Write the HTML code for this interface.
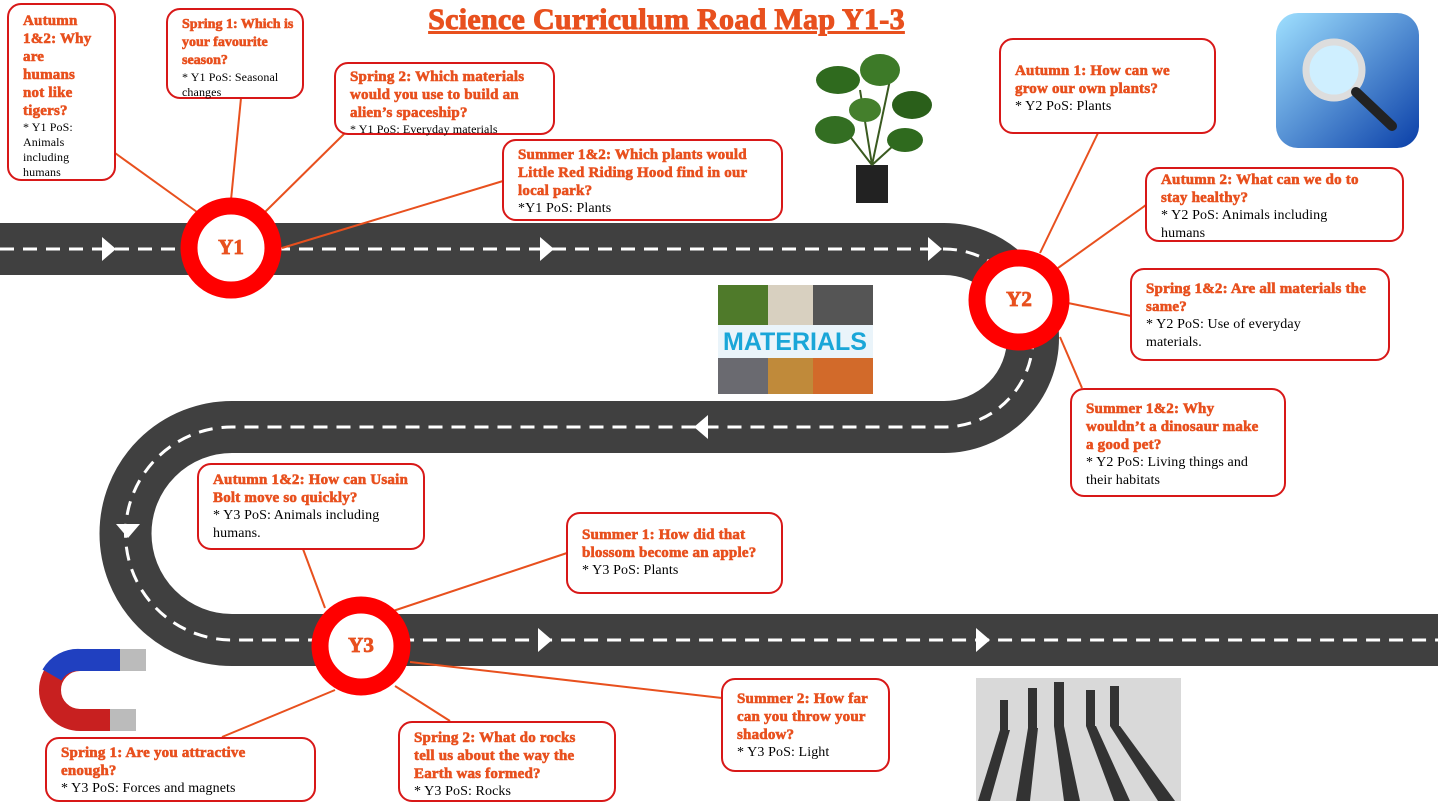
<!DOCTYPE html>
<html><head><meta charset="utf-8"><style>
html,body{margin:0;padding:0;background:#fff;width:1438px;height:807px;overflow:hidden;position:relative;font-family:"Liberation Serif",serif}
svg{position:absolute;left:0;top:0}
.b{position:absolute;box-sizing:border-box;border:2px solid #d81818;border-radius:14px;background:#fff;padding:6px 4px 4px 14px;color:#000;font-size:14px;line-height:18px;white-space:nowrap;letter-spacing:0.1px}
.b b{color:#e8501e;font-size:15px;display:block;letter-spacing:0.2px;font-weight:700;-webkit-text-stroke:0.6px #e8501e}
.s{font-size:12px;line-height:15px}
.s b{font-size:15px;line-height:18px}
h1{position:absolute;left:0;width:1333px;text-align:center;top:3px;margin:0;font-size:30px;color:#e8501e;text-decoration:underline;font-weight:bold;letter-spacing:0.3px;-webkit-text-stroke:1px #e8501e;font-family:"Liberation Serif",serif}
.c{position:absolute;font-weight:bold;color:#e8501e;font-size:21px;text-align:center;width:60px;margin-left:-30px;margin-top:-13px;-webkit-text-stroke:0.8px #e8501e}
</style></head><body>
<svg width="1438" height="807">
<defs><linearGradient id="mg" x1="0" y1="0" x2="1" y2="1"><stop offset="0" stop-color="#9fe0ff"/><stop offset="1" stop-color="#0a3fa8"/></linearGradient></defs>
<path d="M0 249 H944 A89 89 0 0 1 944 427 H232 A106.5 106.5 0 0 0 232 640 H1438" fill="none" stroke="#404040" stroke-width="52"/>
<path d="M0 249 H944 A89 89 0 0 1 944 427 H232 A106.5 106.5 0 0 0 232 640 H1438" fill="none" stroke="#fff" stroke-width="3" stroke-dasharray="14 9"/>
<g fill="#fff">
<polygon points="102,237 116,249 102,261"/><polygon points="540,237 554,249 540,261"/><polygon points="928,237 942,249 928,261"/>
<polygon points="708,415 694,427 708,439"/>
<polygon points="116,524 128,538 140,524"/>
<polygon points="538,628 552,640 538,652"/><polygon points="976,628 990,640 976,652"/>
</g>
<g stroke="#e8501e" stroke-width="2">
<line x1="115" y1="153" x2="197" y2="212"/><line x1="241" y1="98" x2="231" y2="200"/><line x1="345" y1="133" x2="265" y2="212"/><line x1="503" y1="181" x2="282" y2="248"/>
<line x1="1098" y1="133" x2="1040" y2="253"/><line x1="1146" y1="205" x2="1058" y2="268"/><line x1="1131" y1="316" x2="1068" y2="303"/><line x1="1082" y1="388" x2="1060" y2="337"/>
<line x1="303" y1="549" x2="325" y2="608"/><line x1="567" y1="553" x2="393" y2="611"/><line x1="722" y1="698" x2="410" y2="662"/><line x1="222" y1="737" x2="335" y2="690"/><line x1="450" y1="721" x2="395" y2="686"/>
</g>
<g fill="#fff" stroke="#f00" stroke-width="17">
<circle cx="231" cy="248" r="42"/><circle cx="1019" cy="300" r="42"/><circle cx="361" cy="646" r="41"/>
</g>
<g>
<rect x="856" y="165" width="32" height="38" fill="#222"/>
<path d="M872 165 L860 90 M872 165 L890 80 M872 165 L845 130 M872 165 L905 135" stroke="#3a5a20" stroke-width="2"/>
<ellipse cx="838" cy="80" rx="22" ry="14" fill="#2f6a1e"/><ellipse cx="880" cy="70" rx="20" ry="16" fill="#3d7a28"/>
<ellipse cx="912" cy="105" rx="20" ry="14" fill="#2a5f1a"/><ellipse cx="835" cy="130" rx="20" ry="14" fill="#336e22"/>
<ellipse cx="905" cy="140" rx="18" ry="12" fill="#2f6a1e"/><ellipse cx="865" cy="110" rx="16" ry="12" fill="#447f2c"/>
</g>
<rect x="718" y="285" width="155" height="109" fill="#8a9ba0"/>
<rect x="718" y="285" width="50" height="40" fill="#4f7a2a"/><rect x="768" y="285" width="45" height="40" fill="#d8d0c0"/><rect x="813" y="285" width="60" height="40" fill="#555"/>
<rect x="718" y="358" width="50" height="36" fill="#6a6a70"/><rect x="768" y="358" width="45" height="36" fill="#c08a3a"/><rect x="813" y="358" width="60" height="36" fill="#d26a2a"/>
<rect x="718" y="325" width="155" height="33" fill="#eaf4fa"/>
<text x="795" y="350" text-anchor="middle" font-family="Liberation Sans" font-weight="bold" font-size="25" fill="#1aa6d8">MATERIALS</text>
<rect x="1276" y="13" width="143" height="135" rx="22" fill="url(#mg)"/>
<circle cx="1334" cy="70" r="28" fill="#cfefff" stroke="#ddd" stroke-width="7"/>
<line x1="1356" y1="92" x2="1392" y2="126" stroke="#222" stroke-width="10" stroke-linecap="round"/>
<path d="M130 660 H80 A30 30 0 0 0 80 720 H120" fill="none" stroke="#c82020" stroke-width="22"/>
<path d="M130 660 H80 A30 30 0 0 0 52 675" fill="none" stroke="#2040c0" stroke-width="22"/>
<rect x="120" y="649" width="26" height="22" fill="#bbb"/><rect x="110" y="709" width="26" height="22" fill="#bbb"/>
<rect x="976" y="678" width="205" height="123" fill="#d9d9d9"/>
<g fill="#333">
<rect x="1028" y="688" width="9" height="40"/><rect x="1054" y="682" width="10" height="44"/><rect x="1086" y="690" width="9" height="36"/><rect x="1110" y="686" width="9" height="40"/><rect x="1000" y="700" width="8" height="30"/>
<polygon points="1000,730 1010,730 990,801 978,801"/><polygon points="1028,728 1038,728 1030,801 1016,801"/><polygon points="1054,726 1064,726 1080,801 1064,801"/><polygon points="1086,726 1096,726 1130,801 1114,801"/><polygon points="1110,726 1120,726 1175,801 1158,801"/>
</g>
</svg>
<h1>Science Curriculum Road Map Y1-3</h1>
<div class="c" style="left:231px;top:248px">Y1</div>
<div class="c" style="left:1019px;top:300px">Y2</div>
<div class="c" style="left:361px;top:646px">Y3</div>

<div class="b s" style="left:7px;top:3px;width:109px;height:178px;padding-top:7px">
<b>Autumn<br>1&amp;2: Why<br>are<br>humans<br>not like<br>tigers?</b>* Y1 PoS:<br>Animals<br>including<br>humans</div>
<div class="b s" style="left:166px;top:8px;width:138px;height:91px"><b style="font-size:14px;letter-spacing:0">Spring 1: Which is<br>your favourite<br>season?</b>* Y1 PoS: Seasonal<br>changes</div>
<div class="b s" style="left:334px;top:62px;width:221px;height:73px;padding-top:4px"><b>Spring 2: Which materials<br>would you use to build an<br>alien’s spaceship?</b>* Y1 PoS: Everyday materials</div>
<div class="b" style="left:502px;top:139px;width:281px;height:82px;padding-top:5px"><b>Summer 1&amp;2: Which plants would<br>Little Red Riding Hood find in our<br>local park?</b>*Y1 PoS: Plants</div>
<div class="b" style="left:999px;top:38px;width:217px;height:96px;padding-top:22px"><b>Autumn 1: How can we<br>grow our own plants?</b>* Y2 PoS: Plants</div>
<div class="b" style="left:1145px;top:167px;width:259px;height:75px;padding-top:2px"><b>Autumn 2: What can we do to<br>stay healthy?</b>* Y2 PoS: Animals including<br>humans</div>
<div class="b" style="left:1130px;top:268px;width:260px;height:93px;padding-top:10px"><b>Spring 1&amp;2: Are all materials the<br>same?</b>* Y2 PoS: Use of everyday<br>materials.</div>
<div class="b" style="left:1070px;top:388px;width:216px;height:109px;padding-top:10px"><b>Summer 1&amp;2: Why<br>wouldn’t a dinosaur make<br>a good pet?</b>* Y2 PoS: Living things and<br>their habitats</div>
<div class="b" style="left:197px;top:463px;width:228px;height:87px"><b>Autumn 1&amp;2: How can Usain<br>Bolt move so quickly?</b>* Y3 PoS: Animals including<br>humans.</div>
<div class="b" style="left:566px;top:512px;width:217px;height:82px;padding-top:12px"><b>Summer 1: How did that<br>blossom become an apple?</b>* Y3 PoS: Plants</div>
<div class="b" style="left:45px;top:737px;width:271px;height:65px;padding-top:5px"><b>Spring 1: Are you attractive<br>enough?</b>* Y3 PoS: Forces and magnets</div>
<div class="b" style="left:398px;top:721px;width:218px;height:81px;padding-top:6px"><b>Spring 2: What do rocks<br>tell us about the way the<br>Earth was formed?</b>* Y3 PoS: Rocks</div>
<div class="b" style="left:721px;top:678px;width:169px;height:94px;padding-top:10px"><b>Summer 2: How far<br>can you throw your<br>shadow?</b>* Y3 PoS: Light</div>
</body></html>
